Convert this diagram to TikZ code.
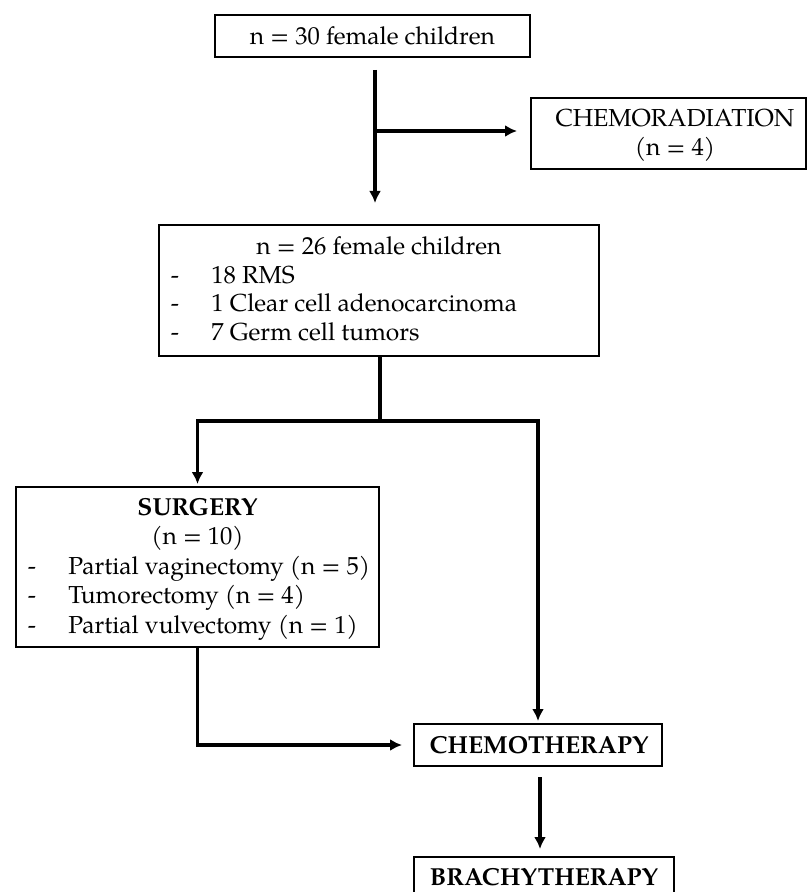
\documentclass[tikz,border=0pt]{standalone}
\usepackage{fontspec}
\setmainfont{TeX Gyre Pagella}
\usetikzlibrary{arrows.meta}
\usetikzlibrary{fit}

\tikzset{
  box/.style={draw, line width=1pt, inner sep=0pt},
  txt/.style={inner sep=0pt, anchor=mid, yshift=-2pt, font=\fontsize{12.3}{14.7}\selectfont},
  heading/.style={txt, font=\fontsize{12.3}{14.7}\selectfont\bfseries},
  wire/.style={line width=1.8pt},
  conn/.style={wire, -{Latex[length=6pt,width=6pt]}},
}

\begin{document}
\begin{tikzpicture}[x=0.5pt,y=-0.5pt]
    \useasboundingbox (0,0) rectangle (808,892);

    % boxes
    \node[box, fit={(215,15) (530,57)}] (n30) {};
    \node[txt] (n30title) at (372.5,36) {n = 30 female children};

    \node[box, fit={(531,98) (806,169)}] (chemorad) {};
    \node[txt] (chemoradtitle) at (675,118) {CHEMORADIATION};
    \node[txt] (chemoradcount) at (675,147) {(n = 4)};

    \node[box, fit={(159,225) (599,356)}] (n26) {};
    \node[txt] (n26title) at (379,246) {n = 26 female children};
    \foreach \kind [count=\i] in {18 RMS, 1 Clear cell adenocarcinoma, 7 Germ cell tumors} {
      \node[txt] (n26dash\i) at (175,{246+28.5*\i}) {-};
      \node[txt, anchor=mid west] (n26kind\i) at (211,{246+28.5*\i}) {\kind};
    }

    \node[box, fit={(16,487) (379,647)}] (surgery) {};
    \node[heading] (surgtitle) at (197.5,507) {SURGERY};
    \node[txt] (surgcount) at (197.5,536) {(n = 10)};
    \foreach \kind [count=\i] in {Partial vaginectomy (n = 5), Tumorectomy (n = 4), Partial vulvectomy (n = 1)} {
      \node[txt] (surgdash\i) at (32,{536+29.5*\i}) {-};
      \node[txt, anchor=mid west] (surgkind\i) at (68,{536+29.5*\i}) {\kind};
    }

    \node[box, fit={(414,724) (662,766)}] (chemo) {};
    \node[heading] (chemotitle) at (539,745) {CHEMOTHERAPY};

    \node[box, fit={(414,857) (674,899)}] (brachy) {};
    \node[heading] (brachytitle) at (544,877) {BRACHYTHERAPY};

    % connectors
    \coordinate (trunk) at (375,0);
    \coordinate (fork) at (375,131);
    \coordinate (split) at (380,421);
    \coordinate (drop) at (540,0);

    \draw[conn, shorten <=6pt, shorten >=10.5pt] (n30.south -| trunk) -- (n26.north -| trunk);
    \draw[conn, shorten >=6.5pt] (fork) -- (fork -| chemorad.west);
    \draw[wire] (n26.south -| split) -- (split);
    \draw[conn, shorten >=1pt] (split) -| (surgery.north);
    \draw[conn, shorten >=1pt] (split) -| (chemo.north);
    \draw[conn, shorten >=5.5pt] (surgery.south) |- (chemo.west);
    \draw[conn, shorten <=5pt, shorten >=3.5pt] (chemo.south -| drop) -- (brachy.north -| drop);
\end{tikzpicture}
\end{document}
